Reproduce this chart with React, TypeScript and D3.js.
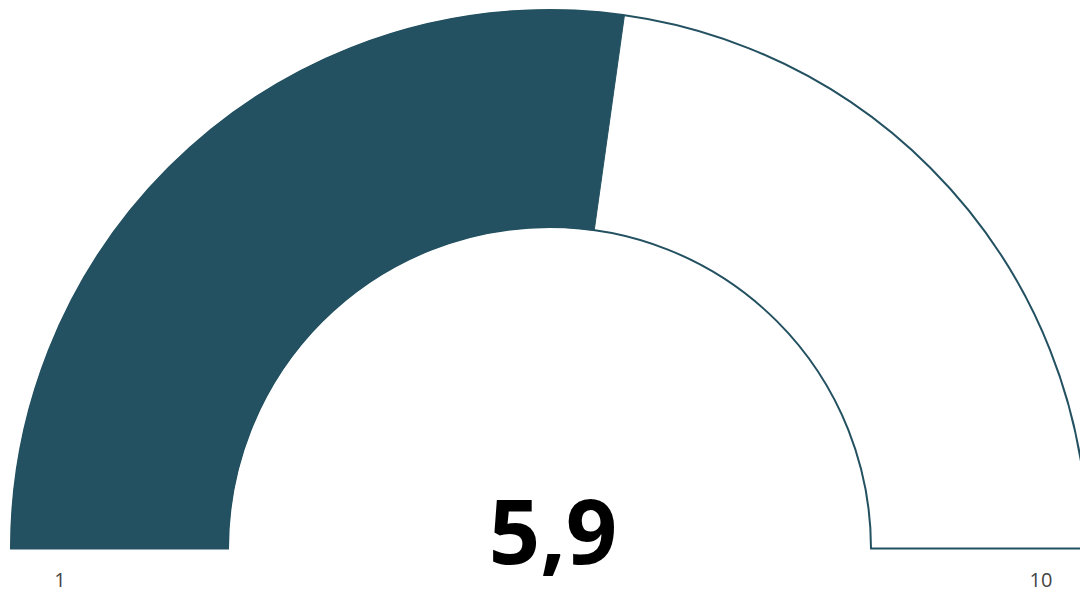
import React from "react";
import * as d3 from "d3";

const minValue = 1;
const maxValue = 10;
const currentValue = 5.9;
const valueLabel = "5,9";
const tickLabels = ["1", "10"];

export default function App() {
  const width = 1080;
  const height = 596;
  const cx = 549.5;
  const cy = 548.5;
  const outerR = 538.5;
  const innerR = 321.5;
  const color = "#235161";

  const angle = d3.scaleLinear().domain([minValue, maxValue]).range([-Math.PI / 2, Math.PI / 2]);
  const arc = d3.arc<any>().innerRadius(innerR).outerRadius(outerR);
  const bg = arc({ startAngle: angle(minValue), endAngle: angle(maxValue) }) as string;
  const fg = arc({ startAngle: angle(minValue), endAngle: angle(currentValue) }) as string;

  return (
    <svg
      width={width}
      height={height}
      style={{ position: "absolute", left: 0, top: 0, background: "#fff" }}
    >
      <g transform={`translate(${cx},${cy})`}>
        <path d={bg} fill="#fff" stroke={color} strokeWidth={2} />
        <path d={fg} fill={color} stroke={color} strokeWidth={1} />
      </g>
      <text
        x={553}
        y={564}
        textAnchor="middle"
        fontFamily="'Open Sans', sans-serif"
        fontWeight={700}
        fontSize={90}
        fill="#000"
      >
        {valueLabel}
      </text>
      <text x={60} y={587} textAnchor="middle" fontFamily="'Open Sans', sans-serif" fontSize={20} fill="#444">
        {tickLabels[0]}
      </text>
      <text x={1041} y={587} textAnchor="middle" fontFamily="'Open Sans', sans-serif" fontSize={20} fill="#444">
        {tickLabels[1]}
      </text>
    </svg>
  );
}
